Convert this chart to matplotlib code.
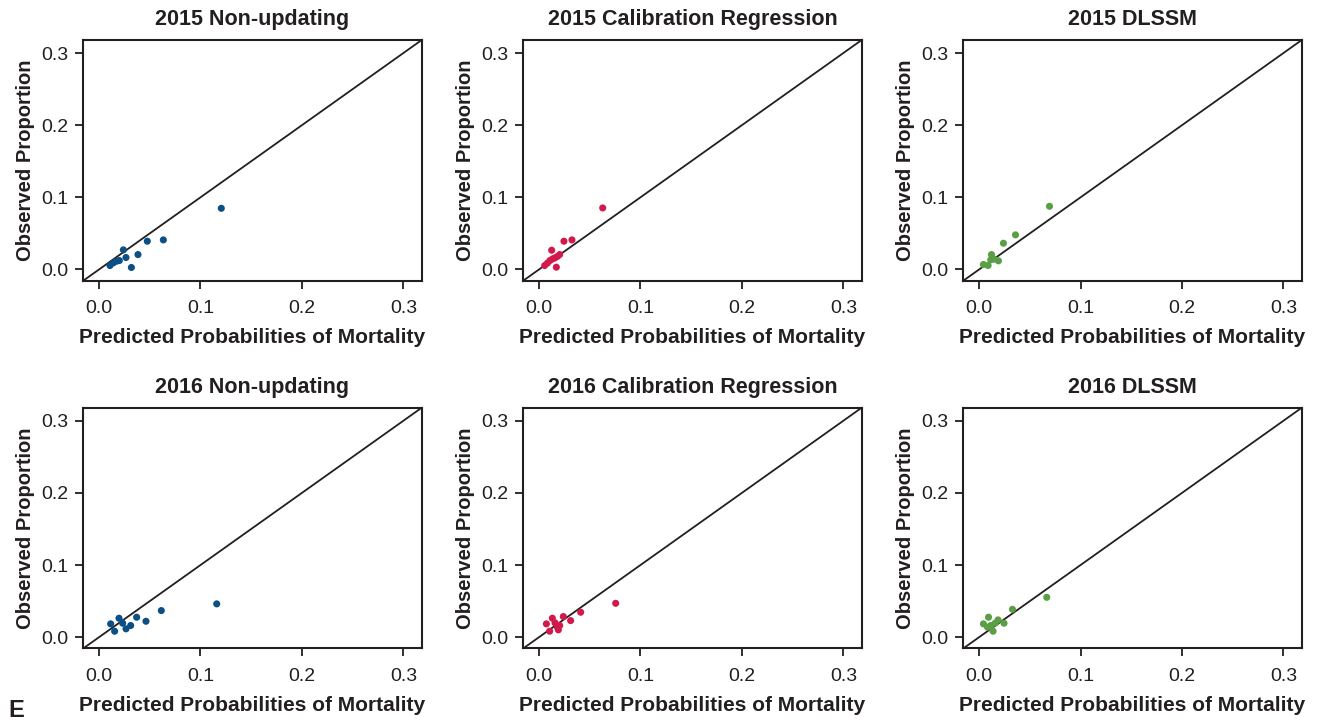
import numpy as np
import matplotlib
matplotlib.use("Agg")
import matplotlib.pyplot as plt

plt.rcParams['font.family'] = ['Liberation Sans', 'DejaVu Sans']

# calibration points per panel: (predicted, observed)
pred_2015_nonupd = [0.0108, 0.0141, 0.0174, 0.0200, 0.0240, 0.0266, 0.0319, 0.0384, 0.0476, 0.0634, 0.1205]
obs_2015_nonupd = [0.0055, 0.0092, 0.0115, 0.0124, 0.0272, 0.0166, 0.0028, 0.0207, 0.0392, 0.0410, 0.0848]

pred_2015_calreg = [0.0056, 0.0083, 0.0108, 0.0135, 0.0158, 0.0181, 0.0204, 0.0125, 0.0171, 0.0246, 0.0325, 0.0628]
obs_2015_calreg = [0.0055, 0.0088, 0.0124, 0.0148, 0.0161, 0.0180, 0.0207, 0.0267, 0.0032, 0.0392, 0.0410, 0.0853]

pred_2015_dlssm = [0.0043, 0.0089, 0.0115, 0.0122, 0.0148, 0.0191, 0.0240, 0.0359, 0.0694]
obs_2015_dlssm = [0.0069, 0.0055, 0.0134, 0.0207, 0.0143, 0.0120, 0.0364, 0.0480, 0.0876]

pred_2016_nonupd = [0.0115, 0.0154, 0.0197, 0.0233, 0.0266, 0.0312, 0.0371, 0.0463, 0.0614, 0.1160]
obs_2016_nonupd = [0.0185, 0.0083, 0.0263, 0.0194, 0.0116, 0.0162, 0.0277, 0.0221, 0.0369, 0.0462]

pred_2016_calreg = [0.0073, 0.0105, 0.0132, 0.0158, 0.0181, 0.0191, 0.0204, 0.0240, 0.0312, 0.0411, 0.0756]
obs_2016_calreg = [0.0185, 0.0083, 0.0263, 0.0199, 0.0139, 0.0102, 0.0162, 0.0286, 0.0230, 0.0346, 0.0470]

pred_2016_dlssm = [0.0043, 0.0083, 0.0093, 0.0115, 0.0138, 0.0158, 0.0187, 0.0246, 0.0329, 0.0667]
obs_2016_dlssm = [0.0185, 0.0139, 0.0277, 0.0162, 0.0083, 0.0194, 0.0240, 0.0194, 0.0387, 0.0553]

titles = ["2015 Non-updating", "2015 Calibration Regression", "2015 DLSSM",
          "2016 Non-updating", "2016 Calibration Regression", "2016 DLSSM"]
series = [(pred_2015_nonupd, obs_2015_nonupd), (pred_2015_calreg, obs_2015_calreg),
          (pred_2015_dlssm, obs_2015_dlssm), (pred_2016_nonupd, obs_2016_nonupd),
          (pred_2016_calreg, obs_2016_calreg), (pred_2016_dlssm, obs_2016_dlssm)]
colors = ["#0b4f85", "#d2194b", "#5a9f45"] * 2
ticks = [0.0, 0.1, 0.2, 0.3]

fig = plt.figure(figsize=(13.24, 7.21), dpi=100)
lo, hi = -0.0155, 0.318
lefts = [0.0629, 0.3952, 0.7276]
bottoms = [0.6107, 0.1007]
ink = "#231f20"

for i, (title, (x, y), col) in enumerate(zip(titles, series, colors)):
    ax = fig.add_axes([lefts[i % 3], bottoms[i // 3], 0.2556, 0.3338])
    ax.plot([lo, hi], [lo, hi], color=ink, lw=1.3, zorder=1)
    ax.scatter(x, y, s=26, color=col, edgecolors='none', zorder=2)
    ax.set_xlim(lo, hi)
    ax.set_ylim(lo, hi)
    ax.set_xticks(ticks)
    ax.set_yticks(ticks)
    ax.set_xticklabels([f"{t:.1f}" for t in ticks])
    ax.set_yticklabels([f"{t:.1f}" for t in ticks])
    ax.tick_params(labelsize=14, length=6, width=1.3, color=ink, labelcolor=ink)
    ax.tick_params(axis='x', pad=8)
    ax.tick_params(axis='y', pad=5)
    for sp in ax.spines.values():
        sp.set_linewidth(1.5)
        sp.set_color(ink)
    ax.set_title(title, fontsize=15.5, fontweight='bold', color=ink, pad=10.5)
    ax.set_xlabel("Predicted Probabilities of Mortality", fontsize=15, fontweight='bold', color=ink, labelpad=8)
    ax.set_ylabel("Observed Proportion", fontsize=14.5, fontweight='bold', color=ink, labelpad=4)

fig.text(0.006, 0.006, "E", fontsize=17, fontweight='bold', color=ink)

fig.savefig("out.png", dpi=100)
